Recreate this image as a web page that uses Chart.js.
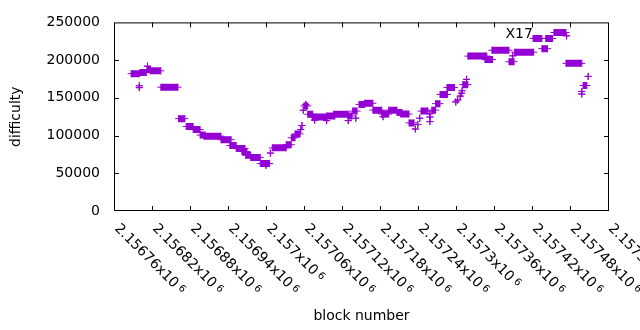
<!DOCTYPE html>
<html>
<head>
<meta charset="utf-8">
<script src="https://cdn.jsdelivr.net/npm/chart.js@4"></script>
<style>
  body { margin: 0; background: #fff; }
</style>
</head>
<body>
<canvas id="chart" width="640" height="330"></canvas>
<script>
// runs of blocks with the same difficulty (first block, last block, difficulty)
// a run with first == last is a single block
const runFirst = [
  2156787, 2156800, 2156800, 2156801, 2156813, 2156812, 2156817, 2156834, 2156862, 2156874,
  2156885, 2156896, 2156902, 2156929, 2156943, 2156953, 2156962, 2156968, 2156976, 2156991,
  2157000, 2157007, 2157010, 2157032, 2157040, 2157046, 2157055, 2157057, 2157059, 2157060,
  2157063, 2157066, 2157073, 2157077, 2157096, 2157096, 2157107, 2157130, 2157130, 2157137,
  2157142, 2157147, 2157156, 2157169, 2157183, 2157185, 2157194, 2157207, 2157213, 2157226,
  2157236, 2157240, 2157243, 2157245, 2157259, 2157259, 2157259, 2157262, 2157268, 2157275,
  2157286, 2157300, 2157303, 2157307, 2157309, 2157310, 2157311, 2157317, 2157319, 2157346,
  2157357, 2157384, 2157390, 2157393, 2157422, 2157436, 2157442, 2157455, 2157475, 2157474,
  2157499, 2157499, 2157501, 2157509
];
const runLast = [
  2156800, 2156800, 2156800, 2156811, 2156813, 2156817, 2156834, 2156861, 2156872, 2156885,
  2156896, 2156904, 2156929, 2156945, 2156953, 2156967, 2156970, 2156976, 2156991, 2157006,
  2157000, 2157007, 2157032, 2157040, 2157046, 2157054, 2157055, 2157057, 2157059, 2157066,
  2157063, 2157074, 2157096, 2157077, 2157096, 2157109, 2157130, 2157130, 2157136, 2157144,
  2157142, 2157156, 2157169, 2157183, 2157194, 2157185, 2157207, 2157215, 2157226, 2157234,
  2157236, 2157240, 2157243, 2157256, 2157259, 2157259, 2157259, 2157268, 2157275, 2157287,
  2157298, 2157300, 2157303, 2157307, 2157309, 2157310, 2157319, 2157317, 2157349, 2157358,
  2157384, 2157392, 2157390, 2157423, 2157436, 2157445, 2157453, 2157474, 2157475, 2157499,
  2157499, 2157499, 2157507, 2157509
];
const runDiff = [
  182000, 166000, 163500, 183500, 192000, 187500, 185800, 164100, 122400, 112000,
  108000, 100700, 99200, 94600, 86800, 82700, 78800, 73800, 71000, 62900,
  60500, 76800, 83700, 87900, 97000, 102200, 108000, 113300, 133500, 139300,
  141300, 128300, 124700, 120400, 119800, 125900, 128300, 119800, 125900, 132400,
  123000, 141300, 142800, 133700, 128500, 125000, 133700, 130600, 128500, 116800,
  108700, 114600, 123000, 132400, 128900, 124600, 118500, 133700, 142300, 154500,
  163600, 144500, 147100, 152300, 156200, 159500, 167500, 174500, 205300, 200700,
  213100, 197900, 205700, 210500, 228700, 215200, 228700, 236600, 232200, 195700,
  158500, 155000, 166300, 178400
];

const xTicks = [2156760, 2156820, 2156880, 2156940, 2157000, 2157060, 2157120,
  2157180, 2157240, 2157300, 2157360, 2157420, 2157480, 2157540];
const xTickText = ['2.15676', '2.15682', '2.15688', '2.15694', '2.157', '2.15706', '2.15712',
  '2.15718', '2.15724', '2.1573', '2.15736', '2.15742', '2.15748', '2.15754'];
const yTicks = [0, 50000, 100000, 150000, 200000, 250000];

const noteText = 'X17';
const noteBlock = 2157400;
const noteDiff = 233500;

const purple = '#9400d3';
const fontName = '"DejaVu Sans", sans-serif';

const points = [];
runFirst.forEach((first, i) => {
  points.push({ x: first, y: runDiff[i] });
  points.push({ x: runLast[i], y: runDiff[i] });
  points.push({ x: runLast[i], y: null });
});

// gnuplot style frame: border all round, ticks pointing inward, mirrored
const framePlugin = {
  id: 'frame',
  beforeDatasetsDraw(chart) {
    const { ctx, chartArea: a, scales } = chart;
    ctx.save();
    ctx.strokeStyle = '#000';
    ctx.lineWidth = 1;
    ctx.strokeRect(a.left + 0.5, a.top + 0.5, a.right - a.left - 1, a.bottom - a.top - 1);
    ctx.beginPath();
    xTicks.forEach(v => {
      const x = Math.round(scales.x.getPixelForValue(v)) + 0.5;
      if (x < a.left + 1 || x > a.right - 1) return;
      ctx.moveTo(x, a.bottom); ctx.lineTo(x, a.bottom - 5);
      ctx.moveTo(x, a.top); ctx.lineTo(x, a.top + 5);
    });
    yTicks.forEach(v => {
      const y = Math.round(scales.y.getPixelForValue(v)) + 0.5;
      if (y < a.top + 1 || y > a.bottom - 1) return;
      ctx.moveTo(a.left, y); ctx.lineTo(a.left + 5, y);
      ctx.moveTo(a.right, y); ctx.lineTo(a.right - 5, y);
    });
    ctx.stroke();
    ctx.restore();
  },
  afterDraw(chart) {
    const { ctx, chartArea: a, scales } = chart;
    ctx.save();
    ctx.fillStyle = '#000';
    // rotated x tick labels, reading down to the right from the tick
    xTicks.forEach((v, i) => {
      const x = scales.x.getPixelForValue(v);
      ctx.save();
      ctx.translate(x, a.bottom + 18);
      ctx.rotate(Math.PI / 4);
      ctx.font = '14px ' + fontName;
      ctx.textAlign = 'left';
      ctx.textBaseline = 'alphabetic';
      const main = xTickText[i] + 'x10';
      ctx.fillText(main, 0, 0);
      const w = ctx.measureText(main).width;
      ctx.font = '10px ' + fontName;
      ctx.fillText('6', w + 3, -3);
      ctx.restore();
    });
    // point label
    ctx.font = '14px ' + fontName;
    ctx.textAlign = 'center';
    ctx.textBaseline = 'middle';
    ctx.fillText(noteText, scales.x.getPixelForValue(noteBlock), scales.y.getPixelForValue(noteDiff));
    ctx.restore();
  }
};

new Chart(document.getElementById('chart'), {
  type: 'scatter',
  data: {
    datasets: [{
      data: points,
      showLine: true,
      spanGaps: false,
      borderColor: purple,
      borderWidth: 7,
      borderCapStyle: 'butt',
      pointStyle: 'cross',
      pointRadius: 3.5,
      pointBorderWidth: 1,
      pointBorderColor: purple,
      pointBackgroundColor: purple
    }]
  },
  options: {
    responsive: false,
    animation: false,
    events: [],
    layout: { padding: { top: 19, right: 31, left: 0, bottom: 0 } },
    plugins: { legend: { display: false }, tooltip: { enabled: false } },
    scales: {
      x: {
        type: 'linear',
        min: 2156760,
        max: 2157542,
        grid: { display: false, drawTicks: false },
        border: { display: false },
        ticks: { display: false },
        afterBuildTicks: scale => { scale.ticks = xTicks.map(v => ({ value: v })); },
        afterFit: scale => { scale.height = 119; },
        title: {
          display: true,
          text: 'block number',
          color: '#000',
          font: { family: fontName, size: 14 },
          padding: { top: 0, bottom: 5 }
        }
      },
      y: {
        min: 0,
        max: 250000,
        grid: { display: false, drawTicks: false },
        border: { display: false },
        afterBuildTicks: scale => { scale.ticks = yTicks.map(v => ({ value: v })); },
        afterFit: scale => { scale.width = 114; },
        ticks: {
          padding: 14,
          color: '#000',
          font: { family: fontName, size: 14 },
          callback: v => String(v)
        },
        title: {
          display: true,
          text: 'difficulty',
          color: '#000',
          font: { family: fontName, size: 14 },
          padding: { top: 8, bottom: 0 }
        }
      }
    }
  },
  plugins: [framePlugin]
});
</script>
</body>
</html>
